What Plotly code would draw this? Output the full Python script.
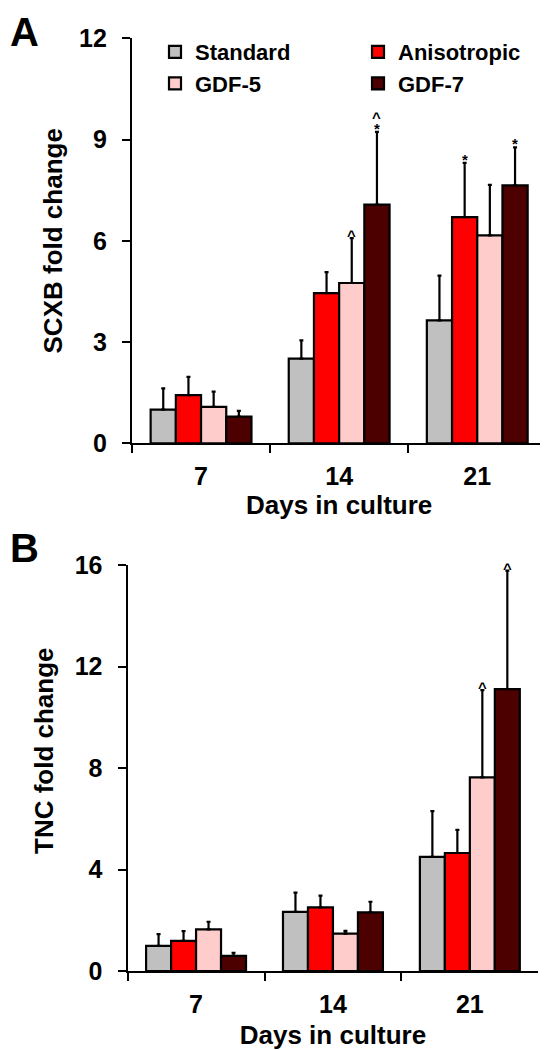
import plotly.graph_objects as go

# ---------------- data ----------------
days = ["7", "14", "21"]
series_names = ["Standard", "Anisotropic", "GDF-5", "GDF-7"]
series_colors = ["#C0C0C0", "#FF0000", "#FFCCCC", "#4C0000"]

# Panel A: SCXB fold change (mean, upper error)
scxb_standard = [1.00, 2.51, 3.64]
scxb_standard_err = [0.63, 0.54, 1.33]
scxb_anisotropic = [1.43, 4.45, 6.70]
scxb_anisotropic_err = [0.54, 0.62, 1.61]
scxb_gdf5 = [1.08, 4.75, 6.16]
scxb_gdf5_err = [0.45, 1.33, 1.50]
scxb_gdf7 = [0.79, 7.07, 7.64]
scxb_gdf7_err = [0.17, 2.16, 1.13]

scxb_standard_sig = ["", "", ""]
scxb_anisotropic_sig = ["", "", "*"]
scxb_gdf5_sig = ["", "^", ""]
scxb_gdf7_sig = ["", "^*", "*"]

# Panel B: TNC fold change
tnc_standard = [0.99, 2.33, 4.50]
tnc_standard_err = [0.46, 0.76, 1.80]
tnc_anisotropic = [1.19, 2.51, 4.65]
tnc_anisotropic_err = [0.38, 0.46, 0.91]
tnc_gdf5 = [1.64, 1.47, 7.63]
tnc_gdf5_err = [0.30, 0.11, 3.44]
tnc_gdf7 = [0.60, 2.31, 11.11]
tnc_gdf7_err = [0.12, 0.42, 4.67]

tnc_standard_sig = ["", "", ""]
tnc_anisotropic_sig = ["", "", ""]
tnc_gdf5_sig = ["", "", "^"]
tnc_gdf7_sig = ["", "", "^"]

scxb_ticks = [0, 3, 6, 9, 12]
tnc_ticks = [0, 4, 8, 12, 16]

# ---------------- styling ----------------
# the page body adds an 8px margin, so the figure is drawn 8px smaller and
# positions below are given in figure pixels (screen pixels minus 8)
W, H = 540, 1042
FONT = "Arial, 'Liberation Sans', sans-serif"
BARGAP = 0.27

panelA = dict(x0=124, x1=538.3, y0=30.3, y1=435.3)
panelB = dict(x0=119.6, x1=530.3, y0=557, y1=963)


def px_dom_x(a, b):
    return [a / W, b / W]


def px_dom_y(top, bottom):
    return [1 - bottom / H, 1 - top / H]


fig = go.Figure()

scxb_vals = [scxb_standard, scxb_anisotropic, scxb_gdf5, scxb_gdf7]
scxb_errs = [scxb_standard_err, scxb_anisotropic_err, scxb_gdf5_err, scxb_gdf7_err]
scxb_sigs = [scxb_standard_sig, scxb_anisotropic_sig, scxb_gdf5_sig, scxb_gdf7_sig]
tnc_vals = [tnc_standard, tnc_anisotropic, tnc_gdf5, tnc_gdf7]
tnc_errs = [tnc_standard_err, tnc_anisotropic_err, tnc_gdf5_err, tnc_gdf7_err]
tnc_sigs = [tnc_standard_sig, tnc_anisotropic_sig, tnc_gdf5_sig, tnc_gdf7_sig]

legend_of = ["legend", "legend2", "legend", "legend2"]

for i, name in enumerate(series_names):
    fig.add_trace(go.Bar(
        x=days, y=scxb_vals[i], name=name, xaxis="x", yaxis="y",
        marker=dict(color=series_colors[i], line=dict(color="black", width=2.2)),
        error_y=dict(type="data", symmetric=False, array=scxb_errs[i],
                     arrayminus=[0] * len(days), color="black", thickness=2.2, width=2),
        legend=legend_of[i], showlegend=True,
    ))
for i, name in enumerate(series_names):
    fig.add_trace(go.Bar(
        x=days, y=tnc_vals[i], name=name, xaxis="x2", yaxis="y2",
        marker=dict(color=series_colors[i], line=dict(color="black", width=2.2)),
        error_y=dict(type="data", symmetric=False, array=tnc_errs[i],
                     arrayminus=[0] * len(days), color="black", thickness=2.2, width=2),
        showlegend=False,
    ))

# significance marks
n = len(series_names)
bw = (1 - BARGAP) / n
annotations = []


def add_marks(vals, errs, sigs, xref, yref):
    for i in range(n):
        off = -(1 - BARGAP) / 2 + bw * (i + 0.5)
        for d in range(len(days)):
            marks = sigs[i][d]
            for k, ch in enumerate(reversed(marks)):
                base = 4 if ch == "*" else 3
                annotations.append(dict(
                    x=d + off, y=vals[i][d] + errs[i][d], xref=xref, yref=yref,
                    text=ch, showarrow=False, yanchor="middle", xanchor="center",
                    yshift=base + 12 * k, height=10,
                    font=dict(family=FONT, size=15, color="black", weight="bold"),
                ))


add_marks(scxb_vals, scxb_errs, scxb_sigs, "x", "y")
add_marks(tnc_vals, tnc_errs, tnc_sigs, "x2", "y2")

# panel letters
annotations.append(dict(x=0, y=1, xref="paper", yref="paper", text="A",
                        showarrow=False, xanchor="left", yanchor="top",
                        font=dict(family=FONT, size=40, color="black", weight="bold")))
annotations.append(dict(x=0, y=1 - 539.5 / H, xref="paper", yref="paper", text="B",
                        showarrow=False, xanchor="left", yanchor="middle",
                        font=dict(family=FONT, size=40, color="black", weight="bold")))
# TNC y title (sits above the panel centre in the reference)
annotations.append(dict(x=36 / W, y=1 - 743 / H, xref="paper", yref="paper",
                        text="TNC fold change", textangle=-90, showarrow=False,
                        xanchor="center", yanchor="middle",
                        font=dict(family=FONT, size=26, color="black", weight="bold")))

tickfont = dict(family=FONT, size=25, color="black", weight="bold")
titlefont = dict(family=FONT, size=26, color="black", weight="bold")

xcommon = dict(type="category", range=[-0.5, 2.5], tickson="boundaries", ticks="outside",
               ticklen=8, tickwidth=2.2, tickcolor="black", showline=True, linewidth=2.2,
               linecolor="black", showgrid=False, zeroline=False, tickfont=tickfont,
               ticklabelstandoff=10, fixedrange=True, automargin=False)
ycommon = dict(ticks="outside", ticklen=8, tickwidth=2.2, tickcolor="black", showline=True,
               linewidth=2.2, linecolor="black", showgrid=False, zeroline=False,
               tickfont=tickfont, ticklabelstandoff=10, fixedrange=True, automargin=False)

legend_common = dict(orientation="v", xanchor="left", yanchor="top", xref="paper",
                     yref="paper", bgcolor="rgba(0,0,0,0)", itemwidth=30,
                     font=dict(family=FONT, size=22, color="black", weight="bold"),
                     tracegroupgap=0, itemclick=False, itemdoubleclick=False)

fig.update_layout(
    width=W, height=H, autosize=False,
    margin=dict(l=0, r=0, t=0, b=0, pad=0, autoexpand=False),
    paper_bgcolor="white", plot_bgcolor="white",
    barmode="group", bargap=BARGAP, bargroupgap=0,
    font=dict(family=FONT, color="black"),
    xaxis=dict(xcommon, domain=px_dom_x(panelA["x0"], panelA["x1"]), anchor="y",
               title=dict(text="Days in culture", font=titlefont, standoff=2)),
    yaxis=dict(ycommon, domain=px_dom_y(panelA["y0"], panelA["y1"]), anchor="x",
               range=[0, 12], tickvals=scxb_ticks,
               title=dict(text="SCXB fold change", font=titlefont, standoff=9)),
    xaxis2=dict(xcommon, domain=px_dom_x(panelB["x0"], panelB["x1"]), anchor="y2",
                title=dict(text="Days in culture", font=titlefont, standoff=14)),
    yaxis2=dict(ycommon, domain=px_dom_y(panelB["y0"], panelB["y1"]), anchor="x2",
                range=[0, 16], tickvals=tnc_ticks),
    legend=dict(legend_common, x=147 / W, y=1 - 23 / H),
    legend2=dict(legend_common, x=350 / W, y=1 - 23 / H),
    annotations=annotations,
)

fig.write_html("out.html")
